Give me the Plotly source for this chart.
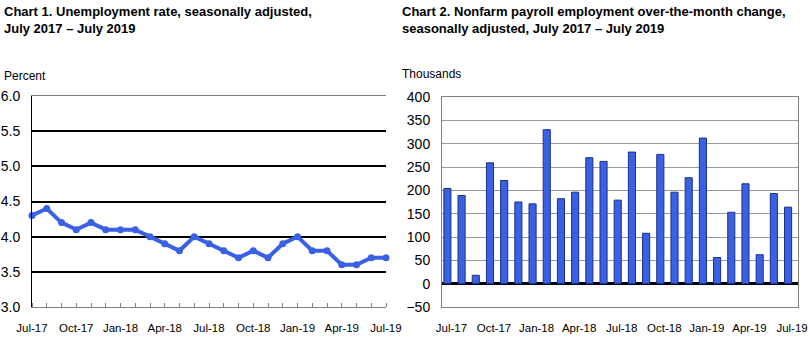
import plotly.graph_objects as go

months = ["Jul-17", "Aug-17", "Sep-17", "Oct-17", "Nov-17", "Dec-17",
          "Jan-18", "Feb-18", "Mar-18", "Apr-18", "May-18", "Jun-18",
          "Jul-18", "Aug-18", "Sep-18", "Oct-18", "Nov-18", "Dec-18",
          "Jan-19", "Feb-19", "Mar-19", "Apr-19", "May-19", "Jun-19", "Jul-19"]
unemployment = [4.3, 4.4, 4.2, 4.1, 4.2, 4.1, 4.1, 4.1, 4.0, 3.9, 3.8, 4.0,
                3.9, 3.8, 3.7, 3.8, 3.7, 3.9, 4.0, 3.8, 3.8, 3.6, 3.6, 3.7, 3.7]
payroll = [204, 189, 18, 259, 221, 175, 171, 330, 182, 196, 270, 262,
           179, 282, 108, 277, 196, 227, 312, 56, 153, 214, 62, 193, 164]
tick_idx = list(range(0, len(months), 3))
tick_labels = [months[i] for i in tick_idx]
idx = list(range(len(months)))

W, H = 810, 350
def px_x(a, b):
    return [a / W, b / W]
def px_y(top, bottom):
    return [(H - bottom) / H, (H - top) / H]

font = "Liberation Sans, Arial, sans-serif"
blue = "#3a61e3"

fig = go.Figure()
fig.add_trace(go.Scatter(x=idx, y=unemployment, mode="lines+markers",
                         line=dict(color=blue, width=4),
                         marker=dict(color=blue, size=7),
                         xaxis="x", yaxis="y", cliponaxis=False,
                         showlegend=False, hoverinfo="skip"))
fig.add_trace(go.Bar(x=idx, y=payroll, marker=dict(color=blue, line=dict(color="#1c2f86", width=1)),
                     width=0.5, xaxis="x2", yaxis="y2", showlegend=False, hoverinfo="skip"))

fig.update_layout(
    width=W, height=H, margin=dict(l=0, r=0, t=0, b=0, autoexpand=False),
    paper_bgcolor="white", plot_bgcolor="white",
    font=dict(family=font, color="#000000"),
    xaxis=dict(domain=px_x(32, 386), range=[0, 24], tickvals=tick_idx, ticktext=tick_labels,
               showgrid=False, zeroline=False, showline=True, linecolor="#808080", linewidth=1,
               mirror=True, ticks="", tickfont=dict(size=11.5), ticklabelstandoff=10, automargin=False,
               minor=dict(ticks="inside", dtick=1, tick0=0, ticklen=4, tickcolor="#808080", showgrid=False)),
    yaxis=dict(domain=px_y(96, 307), range=[3.0, 6.0], dtick=0.5, tickformat=".1f",
               showgrid=True, gridcolor="#000000", gridwidth=2, zeroline=False,
               showline=True, linecolor="#000000", linewidth=1, ticks="", automargin=False,
               tickfont=dict(size=14), ticklabelstandoff=8, anchor="x"),
    xaxis2=dict(domain=px_x(442, 798), range=[-0.38, 24.7], tickvals=tick_idx, ticktext=tick_labels,
                showgrid=False, zeroline=False, showline=True, linecolor="#808080", linewidth=1,
                mirror=True, ticks="", tickfont=dict(size=11.5), ticklabelstandoff=10,
                ticklabelshift=4, anchor="y2", automargin=False),
    yaxis2=dict(domain=px_y(97, 307), range=[-50, 400], dtick=50,
                showgrid=True, gridcolor="#9a9a9a", gridwidth=1,
                zeroline=True, zerolinecolor="#000000", zerolinewidth=3,
                showline=True, linecolor="#808080", linewidth=1, mirror=True, ticks="",
                tickfont=dict(size=14), ticklabelstandoff=8, anchor="x2", automargin=False),
    bargap=0.5,
)

anns = [
    dict(x=2, y=2, text="<b>Chart 1. Unemployment rate, seasonally adjusted,<br>July 2017 – July 2019</b>", size=13),
    dict(x=400, y=2, text="<b>Chart 2. Nonfarm payroll employment over-the-month change,<br>seasonally adjusted, July 2017 – July 2019</b>", size=13),
    dict(x=2, y=67, text="Percent", size=12),
    dict(x=400, y=65, text="Thousands", size=12),
]
for a in anns:
    fig.add_annotation(x=a["x"] / W, y=(H - a["y"]) / H, xref="paper", yref="paper",
                       xanchor="left", yanchor="top", align="left", showarrow=False,
                       text=a["text"], font=dict(size=a["size"], family=font, color="#000000"))

fig.write_html("out.html")
